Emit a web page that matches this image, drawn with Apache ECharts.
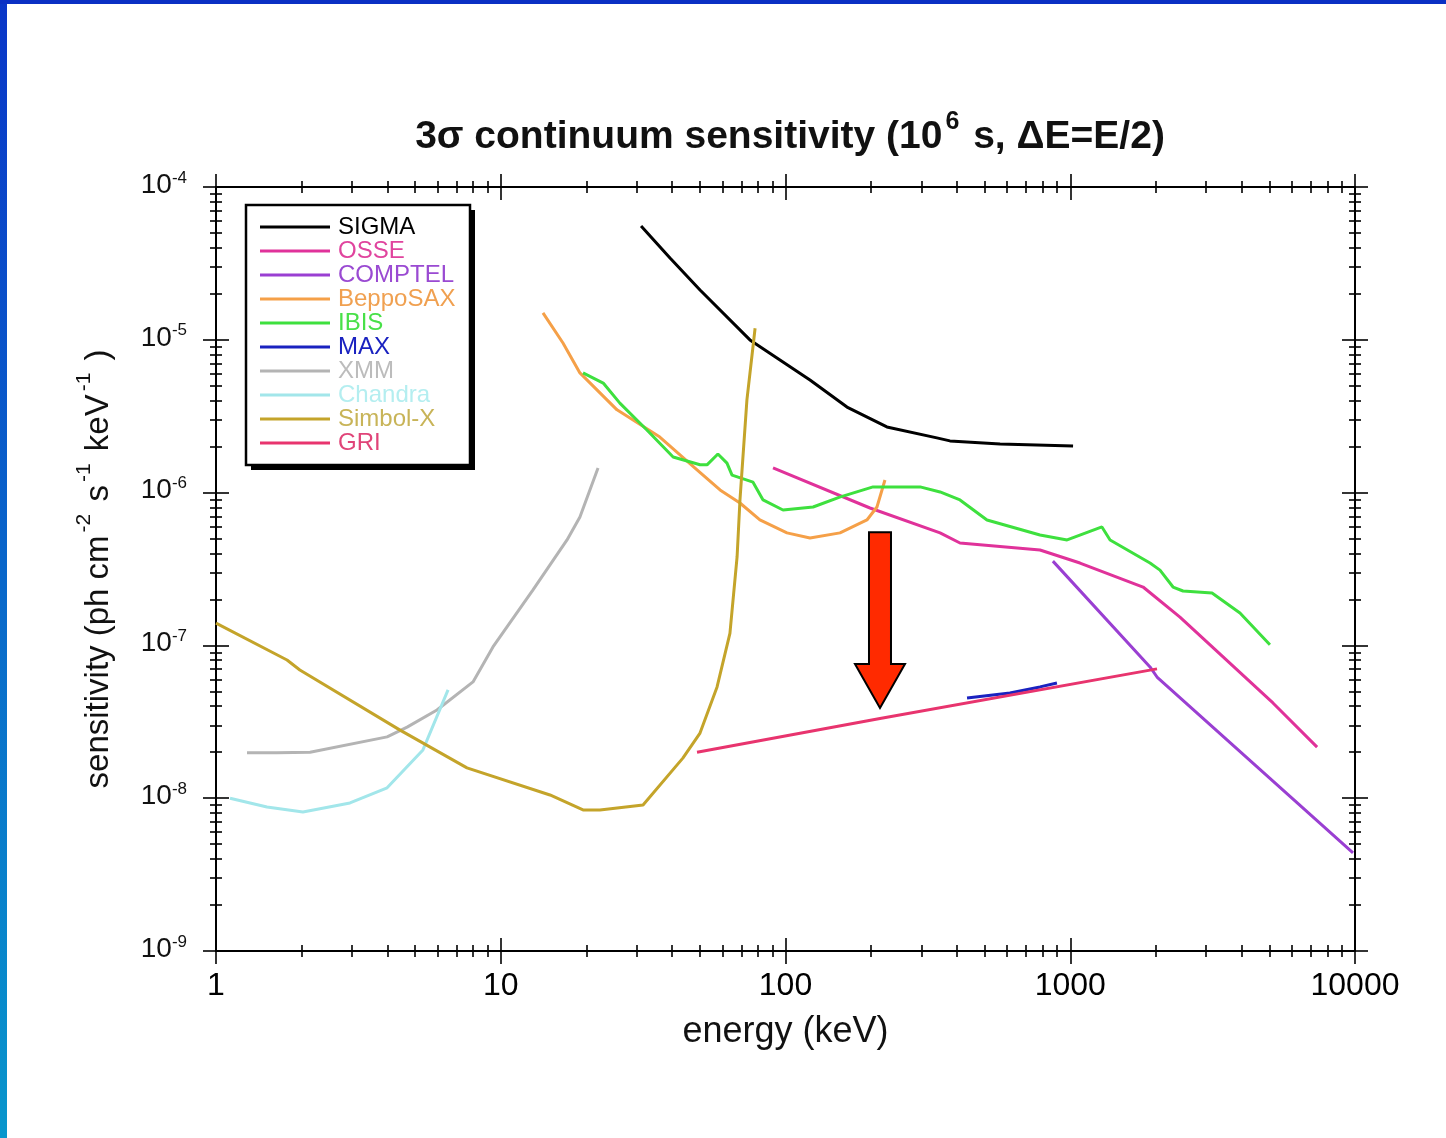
<!DOCTYPE html>
<html>
<head>
<meta charset="utf-8">
<script src="https://cdn.jsdelivr.net/npm/echarts@6/dist/echarts.min.js"></script>
<style>
html, body { margin: 0; padding: 0; background: #fff; }
#chart { width: 1446px; height: 1138px; }
</style>
</head>
<body>
<div id="chart"></div>
<script>
var FONT = '"Liberation Sans", Arial, sans-serif';

// energy (keV) / sensitivity (ph cm-2 s-1 keV-1)
var sigmaE = [31.1, 39.3, 50.1, 75.0, 121.9, 164.4, 227, 340, 378, 567, 1023];
var sigmaS = [5.56e-5, 3.43e-5, 2.12e-5, 9.98e-6, 5.46e-6, 3.63e-6, 2.69e-6, 2.28e-6, 2.18e-6, 2.08e-6, 2.02e-6];

var osseE = [90.4, 198, 349, 410, 783, 1082, 1802, 2428, 5151, 7360];
var osseS = [1.45e-6, 7.93e-7, 5.45e-7, 4.68e-7, 4.21e-7, 3.46e-7, 2.41e-7, 1.53e-7, 4.20e-8, 2.16e-8];

var comptelE = [869, 1906, 2017, 9840];
var comptelS = [3.56e-7, 7.23e-8, 6.21e-8, 4.38e-9];

var saxE = [14.07, 16.54, 18.97, 25.6, 36.2, 48.9, 58.9, 69.2, 81.3, 101.2, 121.9, 155.4, 193.2, 209.5, 223.5];
var saxS = [1.50e-5, 9.53e-6, 6.07e-6, 3.48e-6, 2.31e-6, 1.41e-6, 1.04e-6, 8.55e-7, 6.62e-7, 5.45e-7, 5.05e-7, 5.45e-7, 6.62e-7, 8.05e-7, 1.21e-6];

var ibisE = [19.45, 22.9, 26.2, 32.6, 40.3, 50.1, 53.0, 57.9, 62.3, 64.9, 76.9, 83.4, 98.0, 125, 155, 203, 297, 349, 410, 510, 783, 975, 1292, 1380, 1906, 2066, 2296, 2489, 3147, 3945, 5026];
var ibisS = [6.07e-6, 5.21e-6, 3.85e-6, 2.57e-6, 1.71e-6, 1.52e-6, 1.52e-6, 1.79e-6, 1.56e-6, 1.30e-6, 1.17e-6, 8.95e-7, 7.69e-7, 8.05e-7, 9.35e-7, 1.09e-6, 1.09e-6, 1.01e-6, 8.95e-7, 6.62e-7, 5.28e-7, 4.90e-7, 5.96e-7, 4.90e-7, 3.46e-7, 3.11e-7, 2.41e-7, 2.27e-7, 2.20e-7, 1.63e-7, 1.01e-7];

var maxE = [434, 614, 783, 898];
var maxS = [4.53e-8, 4.88e-8, 5.35e-8, 5.68e-8];

var xmmE = [1.285, 1.637, 2.14, 3.99, 4.69, 5.97, 7.99, 9.39, 12.98, 17.09, 18.97, 21.96];
var xmmS = [1.98e-8, 1.98e-8, 2.00e-8, 2.52e-8, 2.92e-8, 3.78e-8, 5.77e-8, 9.77e-8, 2.31e-7, 4.90e-7, 6.92e-7, 1.45e-6];

var chandraE = [1.12, 1.51, 2.02, 2.955, 3.99, 5.33, 6.53];
var chandraS = [1.00e-8, 8.75e-9, 8.13e-9, 9.31e-9, 1.17e-8, 2.07e-8, 5.11e-8];

var simbolE = [1.0, 1.776, 1.97, 4.43, 7.61, 14.89, 19.45, 22.3, 31.6, 43.6, 50.1, 57.5, 63.8, 67.6, 69.2, 73.2, 78.2];
var simbolS = [1.40e-7, 8.02e-8, 6.9e-8, 2.79e-8, 1.58e-8, 1.05e-8, 8.38e-9, 8.38e-9, 9.02e-9, 1.83e-8, 2.67e-8, 5.35e-8, 1.20e-7, 3.79e-7, 8.95e-7, 4.04e-6, 1.19e-5];

var griE = [48.9, 214.7, 2017];
var griS = [2.00e-8, 3.32e-8, 7.02e-8];

// arrow annotation (energy, top / tip sensitivity)
var arrowE = 214.7;
var arrowTopS = 5.5e-7;
var arrowTipS = 3.9e-8;

// tick values
var xMajor = [1, 10, 100, 1000, 10000];
var xMinor = [2, 3, 4, 5, 6, 7, 8, 9, 20, 30, 40, 50, 60, 70, 80, 90, 200, 300, 400, 500, 600, 700, 800, 900, 2000, 3000, 4000, 5000, 6000, 7000, 8000, 9000];
var yMajor = [1e-9, 1e-8, 1e-7, 1e-6, 1e-5, 1e-4];
var yMinor = [2e-9, 3e-9, 4e-9, 5e-9, 6e-9, 7e-9, 8e-9, 9e-9, 2e-8, 3e-8, 4e-8, 5e-8, 6e-8, 7e-8, 8e-8, 9e-8, 2e-7, 3e-7, 4e-7, 5e-7, 6e-7, 7e-7, 8e-7, 9e-7, 2e-6, 3e-6, 4e-6, 5e-6, 6e-6, 7e-6, 8e-6, 9e-6, 2e-5, 3e-5, 4e-5, 5e-5, 6e-5, 7e-5, 8e-5, 9e-5];

var names = ['SIGMA', 'OSSE', 'COMPTEL', 'BeppoSAX', 'IBIS', 'MAX', 'XMM', 'Chandra', 'Simbol-X', 'GRI'];
var colors = ['#000000', '#e0329a', '#9a3fd2', '#f5a048', '#3ee03e', '#1a22c0', '#b4b4b4', '#a2e6ea', '#c4a42a', '#e8346e'];
var textColors = ['#000000', '#e0449e', '#9a4ad2', '#f0a050', '#48e048', '#1a22c0', '#bcbcbc', '#b4eef0', '#c8b458', '#e04478'];
var xs = [sigmaE, osseE, comptelE, saxE, ibisE, maxE, xmmE, chandraE, simbolE, griE];
var ys = [sigmaS, osseS, comptelS, saxS, ibisS, maxS, xmmS, chandraS, simbolS, griS];

function zip(a, b) {
    return a.map(function (v, i) { return [v, b[i]]; });
}

var myChart = echarts.init(document.getElementById('chart'));

// ticks cross the frame: each axis is pushed out by 'offset' and draws inside ticks twice as long
function xAx(pos, offset, len, vals, extra) {
    var ax = {
        type: 'log', min: 1, max: 10000, position: pos, offset: offset,
        axisLine: { show: false },
        axisTick: { show: true, inside: true, length: len, customValues: vals, lineStyle: { color: '#000', width: 1.6 } },
        axisLabel: { show: false },
        splitLine: { show: false },
        minorTick: { show: false }
    };
    return Object.assign(ax, extra || {});
}
function yAx(pos, offset, len, vals, extra) {
    var ax = {
        type: 'log', min: 1e-9, max: 1e-4, position: pos, offset: offset,
        axisLine: { show: false },
        axisTick: { show: true, inside: true, length: len, customValues: vals, lineStyle: { color: '#000', width: 1.6 } },
        axisLabel: { show: false },
        splitLine: { show: false },
        minorTick: { show: false }
    };
    return Object.assign(ax, extra || {});
}

myChart.setOption({
    backgroundColor: '#ffffff',
    animation: false,
    title: {
        text: '{a|3σ continuum sensitivity (10}{s|6}{a| s, ΔE=E/2)}',
        left: 785, top: 105, textAlign: 'center',
        textStyle: {
            rich: {
                a: { fontFamily: FONT, fontSize: 39, fontWeight: 'bold', color: '#111' },
                s: { fontFamily: FONT, fontSize: 25, fontWeight: 'bold', color: '#111', padding: [0, 3, 30, 3] }
            }
        }
    },
    grid: {
        left: 216, right: 91, top: 187, bottom: 187,
        show: true, borderColor: '#000', borderWidth: 2, backgroundColor: 'transparent',
        outerBoundsMode: 'none'
    },
    legend: {
        orient: 'vertical', left: 246, top: 205, z: 10,
        padding: [10, 14, 10, 14],
        itemWidth: 70, itemHeight: 3, itemGap: 0, icon: 'rect',
        backgroundColor: 'transparent', borderWidth: 0,
        textStyle: { fontFamily: FONT, fontSize: 24, lineHeight: 24, padding: [0, 0, 0, 3] },
        data: names.map(function (n, i) { return { name: n, textStyle: { color: textColors[i] } }; })
    },
    xAxis: [
        xAx('bottom', 13, 26, xMajor, {
            axisLabel: {
                show: true, customValues: xMajor, margin: 6, color: '#000', fontFamily: FONT, fontSize: 32,
                formatter: function (v) { return String(Math.round(v)); }
            },
            name: 'energy (keV)', nameLocation: 'middle', nameGap: 50,
            nameTextStyle: { fontFamily: FONT, fontSize: 36, color: '#111' }
        }),
        xAx('bottom', 6, 12, xMinor),
        xAx('top', 13, 26, xMajor),
        xAx('top', 6, 12, xMinor)
    ],
    yAxis: [
        yAx('left', 13, 26, yMajor, {
            axisLabel: {
                show: true, customValues: yMajor, margin: 16,
                formatter: function (v) { return '{b|10}{s|' + Math.round(Math.log10(v)) + '}'; },
                rich: {
                    b: { fontFamily: FONT, fontSize: 28, color: '#111', padding: [0, 0, 4, 0] },
                    s: { fontFamily: FONT, fontSize: 17, color: '#111', padding: [0, 0, 18, 0] }
                }
            },
            name: '{a|sensitivity (ph cm}{s|-2}{a| s}{s|-1}{a| keV}{s|-1}{a| )}',
            nameLocation: 'middle', nameGap: 80, nameRotate: 90,
            nameTextStyle: {
                rich: {
                    a: { fontFamily: FONT, fontSize: 33, color: '#111' },
                    s: { fontFamily: FONT, fontSize: 21, color: '#111', padding: [0, 3, 28, 3] }
                }
            }
        }),
        yAx('left', 6, 12, yMinor),
        yAx('right', 13, 26, yMajor),
        yAx('right', 6, 12, yMinor)
    ],
    series: names.map(function (n, i) {
        return {
            name: n, type: 'line', xAxisIndex: 0, yAxisIndex: 0,
            showSymbol: false, symbol: 'none',
            lineStyle: { color: colors[i], width: 3 },
            itemStyle: { color: colors[i] },
            data: zip(xs[i], ys[i])
        };
    })
});

// frame strips, legend box with drop shadow, and the red arrow
var arrowTop = myChart.convertToPixel({ xAxisIndex: 0, yAxisIndex: 0 }, [arrowE, arrowTopS]);
var arrowTip = myChart.convertToPixel({ xAxisIndex: 0, yAxisIndex: 0 }, [arrowE, arrowTipS]);
var cx = arrowTip[0], headY = arrowTip[1] - 44;
myChart.setOption({
    graphic: [
        {
            type: 'rect', left: 0, top: 0, shape: { width: 7, height: 1138 }, z: 100,
            style: { fill: new echarts.graphic.LinearGradient(0, 0, 0, 1, [{ offset: 0, color: '#0a36c8' }, { offset: 1, color: '#0896cc' }]) }
        },
        { type: 'rect', left: 0, top: 0, shape: { width: 1446, height: 4 }, z: 100, style: { fill: '#0a30c4' } },
        { type: 'rect', z: 8, shape: { x: 251, y: 210, width: 224, height: 260 }, style: { fill: '#000' } },
        { type: 'rect', z: 9, shape: { x: 246, y: 205, width: 224, height: 260 }, style: { fill: '#fff', stroke: '#000', lineWidth: 2.5 } },
        {
            type: 'polygon', z: 100,
            shape: {
                points: [
                    [cx - 11, arrowTop[1]], [cx + 11, arrowTop[1]], [cx + 11, headY], [cx + 25, headY],
                    [cx, arrowTip[1]], [cx - 25, headY], [cx - 11, headY]
                ]
            },
            style: { fill: '#ff2a00', stroke: '#000', lineWidth: 2 }
        }
    ]
});
</script>
</body>
</html>
